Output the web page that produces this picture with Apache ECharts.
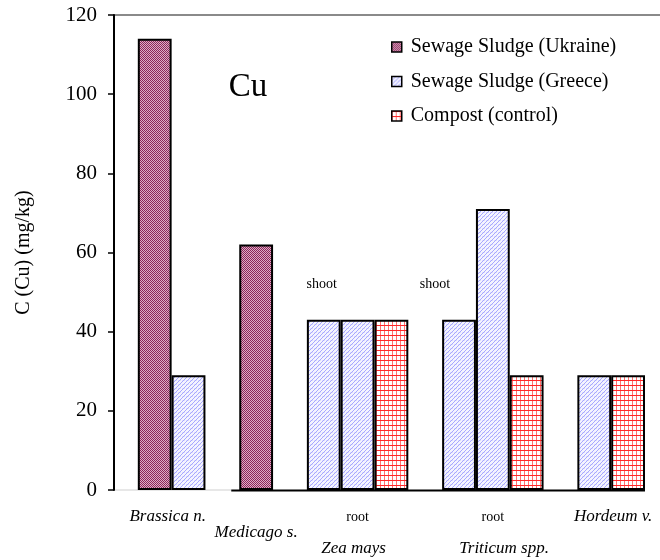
<!DOCTYPE html>
<html><head><meta charset="utf-8">
<script src="https://cdn.jsdelivr.net/npm/echarts@6/dist/echarts.min.js"></script>
<style>html,body{margin:0;padding:0;background:#fff}#c{width:660px;height:560px}</style>
</head><body><div id="c"></div>
<script>
// ---- data ----
const slots = ['gap0','Brassica n. U','Brassica n. G','gap1','Medicago s. U','gap2',
  'Zea mays shoot G','Zea mays root G','Zea mays root C','gap3',
  'Triticum spp. shoot G','Triticum spp. root G','Triticum spp. root C','gap4',
  'Hordeum v. G','Hordeum v. C'];
const ukraine = [null,114,null,null,62,null,null,null,null,null,null,null,null,null,null,null];
const greece  = [null,null,29,null,null,null,43,43,null,null,43,71,null,null,29,null];
const compost = [null,null,null,null,null,null,null,null,43,null,null,null,29,null,null,29];
const seriesNames = ['Sewage Sludge (Ukraine)','Sewage Sludge (Greece)','Compost (control)'];
const speciesLabels = ['Brassica n.','Medicago s.','Zea mays','Triticum spp.','Hordeum v.'];
const partLabels = ['shoot','root','shoot','root'];
const yMin = 0, yMax = 120, yStep = 20;
const yTitle = 'C (Cu) (mg/kg)';
const panelTitle = 'Cu';

// ---- patterns ----
function pat(w,h,draw){const c=document.createElement('canvas');c.width=w;c.height=h;const g=c.getContext('2d');draw(g,w,h);return {image:c,repeat:'repeat'};}
const patU = pat(2,2,(g)=>{g.fillStyle='#dcaec6';g.fillRect(0,0,2,2);g.fillStyle='#8c2659';g.fillRect(0,0,1,1);g.fillRect(1,1,1,1);});
const patG = pat(4,4,(g)=>{g.fillStyle='#f4f4ff';g.fillRect(0,0,4,4);g.fillStyle='#a8a8ff';for(let x=0;x<4;x++){g.fillRect(x,3-x,1,1);}g.fillStyle='#dcdcff';g.fillRect(0,0,1,1);g.fillRect(2,0,1,1);});
const patC = pat(4,5,(g)=>{g.fillStyle='#ffffff';g.fillRect(0,0,4,5);g.fillStyle='#ff7070';g.fillRect(0,0,1,5);g.fillStyle='#ff2a2a';g.fillRect(0,0,4,1);});

const FONT = '"Liberation Serif", "Times New Roman", serif';
const chart = echarts.init(document.getElementById('c'), null, {renderer:'canvas'});

function bar(name, data, color){
  return {name, type:'bar', data, barGap:'-100%', barCategoryGap:'0%',
    itemStyle:{color, borderColor:'#000', borderWidth:2}, emphasis:{disabled:true}, animation:false};
}

chart.setOption({
  animation:false,
  backgroundColor:'#fff',
  grid:{left:104, right:15, top:15, bottom:70, containLabel:false},
  xAxis:{type:'category', data:slots, axisLine:{show:false}, axisTick:{show:false}, axisLabel:{show:false}, splitLine:{show:false}},
  yAxis:{type:'value', min:yMin, max:yMax, interval:yStep, offset:-10,
    axisLine:{show:true, lineStyle:{color:'#000', width:2}},
    axisTick:{show:true, length:6, lineStyle:{color:'#000', width:1.5}},
    axisLabel:{fontFamily:FONT, fontSize:21, color:'#000', margin:17},
    splitLine:{show:false},
    name:yTitle, nameLocation:'middle', nameGap:80, nameRotate:90,
    nameTextStyle:{fontFamily:FONT, fontSize:20, color:'#000'}},
  legend:{orient:'vertical', left:386, top:32, itemWidth:10, itemHeight:10, itemGap:14.5,
    icon:'rect', itemStyle:{borderColor:'#000', borderWidth:1.5},
    textStyle:{fontFamily:FONT, fontSize:20, color:'#000', padding:[0,0,0,4]}, data:seriesNames},
  series:[bar(seriesNames[0], ukraine, patU), bar(seriesNames[1], greece, patG), bar(seriesNames[2], compost, patC)]
});

function px(i){return chart.convertToPixel({xAxisIndex:0}, i);}
function py(v){return chart.convertToPixel({yAxisIndex:0}, v);}
const slotW = px(1)-px(0);
const y0 = py(0), yTop = py(yMax);
const axisX = px(0) - slotW/2 + 10;
const it = (t, x, y, size, italic) => ({type:'text', x, y, style:{text:t, fontFamily:FONT, fontSize:size, fontStyle:italic?'italic':'normal', fill:'#000', align:'center', verticalAlign:'middle'}, silent:true});
const g = [
  {type:'line', shape:{x1:axisX, y1:yTop, x2:660, y2:yTop}, style:{stroke:'#8a8a8a', lineWidth:2}, silent:true},
  {type:'line', shape:{x1:axisX, y1:y0, x2:(px(3)+px(4))/2-8, y2:y0}, style:{stroke:'#cfcfcf', lineWidth:1}, silent:true},
  {type:'line', shape:{x1:(px(3)+px(4))/2-8, y1:y0+0.5, x2:px(15)+slotW/2, y2:y0+0.5}, style:{stroke:'#000', lineWidth:2}, silent:true},
  it(speciesLabels[0], (px(1)+px(2))/2-4, y0+27, 17, true),
  it(speciesLabels[1], px(4), y0+43, 17, true),
  it(speciesLabels[2], px(7)-4, y0+59, 17, true),
  it(speciesLabels[3], (2*px(11)+px(12))/3, y0+59, 17, true),
  it(speciesLabels[4], (px(14)+px(15))/2+2, y0+27, 17, true),
  it(partLabels[0], px(6)-2, py(43)-35, 14, false),
  it(partLabels[1], px(7), y0+27, 14, false),
  it(partLabels[2], px(10)-24, py(43)-35, 14, false),
  it(partLabels[3], px(11), y0+27, 14, false),
  it(panelTitle, 248, 87, 33, false)
];
chart.setOption({graphic:g});
</script>
</body></html>
